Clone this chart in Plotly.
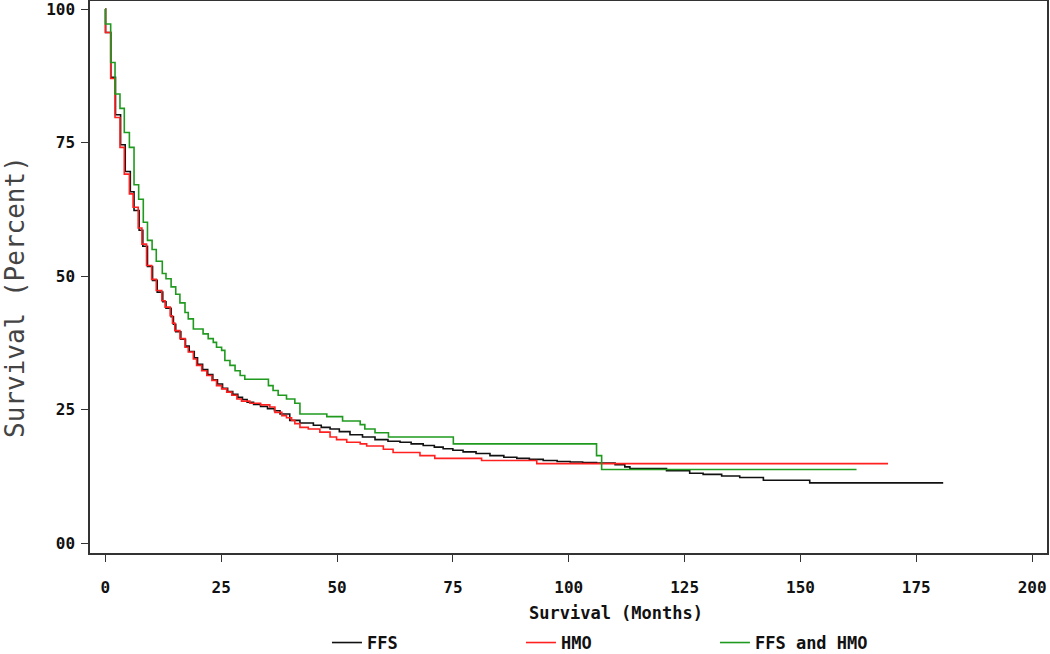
import plotly.graph_objects as go

# ---- data ----
ffs_t = [0, 0.05, 1.2, 2.2, 3.3, 4.3, 5.4, 6.2, 7.3, 8.1, 9.1, 10.2, 11.2, 12.4, 13.1, 14.2, 14.7, 15.2, 16.3, 17.3,
         18.1, 19.2, 19.9, 21.0, 22.1, 23.2, 24.2, 25.3, 26.4, 27.5, 28.6, 29.6, 30.6, 32.0, 33.5, 35.0, 36.5, 37.7, 39.8, 42.0,
         44.9, 46.6, 48.5, 50.5, 52.8, 55.5, 58.2, 61.0, 63.6, 66.0, 68.6, 71.0, 72.9, 75.0, 77.2, 80.0, 83.0, 86.0, 88.8, 91.5,
         94.5, 97.5, 100.3, 103.0, 106.0, 110.0, 112.1, 113.2, 121.1, 126.1, 129.0, 133.0, 136.9, 142.0, 152.0, 180.8]
ffs_s = [100, 95.6, 87.2, 80.2, 74.6, 69.6, 65.8, 62.3, 58.6, 55.6, 51.8, 49.2, 47.0, 45.2, 44.0, 42.4, 41.0, 39.6, 38.2, 36.9,
         35.9, 34.7, 33.5, 32.5, 31.6, 30.6, 29.8, 29.0, 28.4, 27.9, 27.3, 26.9, 26.4, 26.0, 25.6, 25.2, 24.8, 24.2, 23.0, 22.5,
         22.1, 21.7, 21.4, 20.9, 20.3, 19.9, 19.4, 19.1, 18.9, 18.6, 18.3, 18.0, 17.7, 17.4, 17.1, 16.8, 16.4, 16.1, 15.9, 15.7,
         15.5, 15.3, 15.2, 15.1, 15.0, 14.7, 14.3, 14.0, 13.6, 13.1, 12.9, 12.6, 12.3, 11.8, 11.3, 11.3]

hmo_t = [0, 0.05, 1.16, 2.1, 3.17, 4.1, 5.2, 6.0, 7.1, 7.9, 8.9, 10.0, 11.0, 12.2, 12.9, 14.0, 14.5, 15.0, 16.1, 17.2,
         17.9, 19.0, 19.7, 20.8, 21.9, 23.0, 24.0, 25.1, 26.2, 27.3, 28.4, 29.4, 31.2, 33.5, 35.5, 36.6, 38.1, 39.1, 40.2, 40.9,
         42.0, 43.8, 46.3, 48.5, 49.9, 52.1, 55.0, 56.4, 60.0, 62.1, 67.9, 71.1, 81.2, 93.1, 168.9]
hmo_s = [100, 95.6, 87.0, 79.7, 74.1, 69.1, 65.4, 62.9, 59.0, 56.0, 52.0, 49.4, 47.3, 45.4, 44.2, 42.6, 41.2, 39.8, 38.3, 36.7,
         35.8, 34.5, 33.3, 32.3, 31.4, 30.5, 29.5, 28.9, 28.3, 27.7, 27.0, 26.6, 26.2, 25.9, 25.5, 24.5, 23.9, 23.5, 23.0, 22.4,
         21.7, 21.4, 20.8, 19.9, 19.4, 18.9, 18.6, 18.2, 17.6, 17.0, 16.4, 15.9, 15.5, 14.9, 14.9]

both_t = [0, 0.05, 1.16, 2.1, 3.17, 4.1, 5.2, 6.2, 7.2, 8.2, 9.1, 10.1, 11.0, 12.3, 13.1, 14.2, 15.2, 16.1, 17.2, 17.9,
          19.0, 21.1, 22.2, 23.3, 24.0, 25.1, 25.8, 26.9, 28.0, 29.1, 30.1, 35.2, 36.2, 37.3, 39.1, 40.9, 42.0, 47.8, 51.2, 55.0,
          56.0, 58.2, 61.1, 75.1, 106.0, 107.1, 162.1]
both_s = [100, 97.2, 90.0, 84.1, 81.4, 76.9, 74.1, 67.1, 64.4, 60.1, 56.7, 55.0, 52.8, 50.5, 49.5, 48.0, 46.6, 45.0, 43.2, 42.0,
          40.1, 39.2, 38.3, 37.6, 36.7, 36.1, 34.2, 33.3, 32.3, 31.4, 30.7, 29.5, 28.6, 27.7, 27.0, 26.2, 24.2, 23.7, 22.9, 22.2,
          21.4, 20.7, 19.9, 18.6, 16.4, 13.8, 13.8]

series_names = ["FFS", "HMO", "FFS and HMO"]
series_colors = ["#111111", "#ff2020", "#1f9a1f"]

x_tickvals = [0, 25, 50, 75, 100, 125, 150, 175, 200]
x_ticktext = ["0", "25", "50", "75", "100", "125", "150", "175", "200"]
y_tickvals = [0, 25, 50, 75, 100]
y_ticktext = ["00", "25", "50", "75", "100"]

x_title = "Survival (Months)"
y_title = "Survival (Percent)"

# ---- figure ----
fig = go.Figure()
for t, s, name, col in zip([ffs_t, hmo_t, both_t], [ffs_s, hmo_s, both_s], series_names, series_colors):
    fig.add_trace(go.Scatter(x=t, y=s, mode="lines", name="<b>" + name + "</b>",
                             line=dict(color=col, width=1.6, shape="hv")))

tickfont = dict(family="DejaVu Sans Mono", size=16, color="#111111")

fig.update_layout(
    width=1050, height=654,
    paper_bgcolor="white", plot_bgcolor="white",
    margin=dict(l=90, r=3, t=1, b=101, autoexpand=False),
    showlegend=True,
    legend=dict(orientation="h", x=0.2476, xanchor="left", y=-0.163, yanchor="middle",
                font=dict(family="DejaVu Sans Mono", size=17, color="#111111"),
                entrywidth=149, entrywidthmode="pixels", bgcolor="rgba(0,0,0,0)"),
    xaxis=dict(range=[-3.3, 203.2], tickvals=x_tickvals, ticktext=["<b>" + v + "</b>" for v in x_ticktext],
               showgrid=False, zeroline=False, automargin=False, ticklabeloverflow="allow",
               showline=True, linecolor="#333333", linewidth=1.5, mirror=True,
               ticks="outside", ticklen=7, tickwidth=1, tickcolor="#333333",
               tickfont=tickfont, ticklabelstandoff=12),
    yaxis=dict(range=[-1.82, 101.5], tickvals=y_tickvals, ticktext=["<b>" + v + "</b>" for v in y_ticktext],
               showgrid=False, zeroline=False, automargin=False, ticklabeloverflow="allow",
               showline=True, linecolor="#333333", linewidth=1.5, mirror=True,
               ticks="outside", ticklen=7, tickwidth=1, tickcolor="#333333",
               tickfont=tickfont, ticklabelstandoff=3),
    annotations=[
        dict(text="<b>" + x_title + "</b>", xref="paper", yref="paper", x=0.5496, y=-0.1087,
             xanchor="center", yanchor="middle", showarrow=False,
             font=dict(family="DejaVu Sans Mono", size=17, color="#111111")),
        dict(text=y_title, xref="paper", yref="paper", x=-0.0784, y=0.4638, textangle=-90,
             xanchor="center", yanchor="middle", showarrow=False,
             font=dict(family="DejaVu Sans Mono", size=26, color="#444444")),
    ],
)

fig.write_html("out.html", config={"displayModeBar": False},
               post_script="document.body.style.margin='0';document.body.style.overflow='hidden';")
